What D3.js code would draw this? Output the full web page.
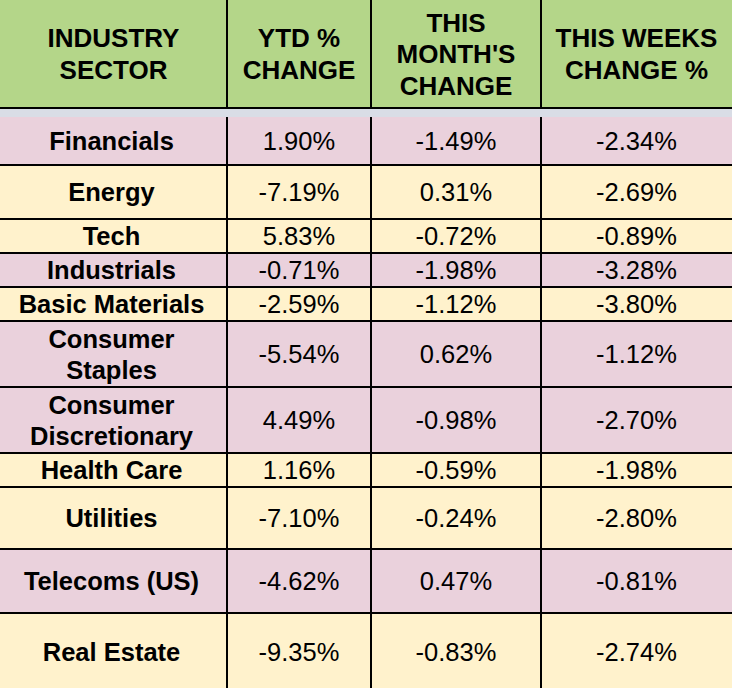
<!DOCTYPE html>
<html>
<head>
<meta charset="utf-8">
<script src="https://cdn.jsdelivr.net/npm/d3@7"></script>
<style>
  body { margin: 0; background: #fff; }
  svg { display: block; font-family: "Liberation Sans", Arial, sans-serif; }
</style>
</head>
<body>
<div id="table"></div>
<script>
// header labels, one array of lines per column
var headers = [
  ['INDUSTRY', 'SECTOR'],
  ['YTD %', 'CHANGE'],
  ['THIS', "MONTH'S", 'CHANGE'],
  ['THIS WEEKS', 'CHANGE %']
];

var sectors = [
  'Financials', 'Energy', 'Tech', 'Industrials', 'Basic Materials',
  'Consumer\nStaples', 'Consumer\nDiscretionary', 'Health Care',
  'Utilities', 'Telecoms (US)', 'Real Estate'
];
var ytdChange   = [1.90, -7.19, 5.83, -0.71, -2.59, -5.54, 4.49, 1.16, -7.10, -4.62, -9.35];
var monthChange = [-1.49, 0.31, -0.72, -1.98, -1.12, 0.62, -0.98, -0.59, -0.24, 0.47, -0.83];
var weekChange  = [-2.34, -2.69, -0.89, -3.28, -3.80, -1.12, -2.70, -1.98, -2.80, -0.81, -2.74];

// layout (not data): column edges, row heights, row colours
var colEdges = [0, 227, 371, 541, 732];
var headerH = 108, gapH = 9;
var rowHeights = [48, 54, 34, 34, 34, 66, 66, 34, 62, 64, 77];
var rowFill = ['pink', 'yellow', 'yellow', 'pink', 'yellow', 'pink', 'pink', 'yellow', 'yellow', 'pink', 'yellow'];
var fills = { pink: '#ead1dc', yellow: '#fff2cc', header: '#b4d689', gap: '#d9dde6' };

var W = 732, H = 688;
var fmt = function (v) { return v.toFixed(2) + '%'; };

var rows = sectors.map(function (s, i) {
  return { cells: [s, fmt(ytdChange[i]), fmt(monthChange[i]), fmt(weekChange[i])], h: rowHeights[i], fill: fills[rowFill[i]] };
});
var y0 = headerH + gapH;
rows.forEach(function (r) { r.y = y0; y0 += r.h; });

var svg = d3.select('#table').append('svg')
  .attr('width', W)
  .attr('height', H);

// header
svg.append('rect').attr('x', 0).attr('y', 0).attr('width', W).attr('height', headerH).attr('fill', fills.header);
svg.append('rect').attr('x', 0).attr('y', headerH).attr('width', W).attr('height', gapH).attr('fill', fills.gap);

var lineH = 31.5;
headers.forEach(function (lines, c) {
  var cx = (colEdges[c] + colEdges[c + 1]) / 2;
  var startY = headerH / 2 - (lines.length - 1) * lineH / 2 + 9;
  svg.append('text')
    .attr('text-anchor', 'middle')
    .attr('font-weight', 'bold')
    .attr('font-size', 26)
    .attr('fill', '#000')
    .selectAll('tspan').data(lines).enter().append('tspan')
    .attr('x', cx)
    .attr('y', function (d, i) { return startY + i * lineH; })
    .text(function (d) { return d; });
});

// body rows
var g = svg.selectAll('g.row').data(rows).enter().append('g').attr('class', 'row');
g.append('rect')
  .attr('x', 0).attr('y', function (d) { return d.y; })
  .attr('width', W).attr('height', function (d) { return d.h; })
  .attr('fill', function (d) { return d.fill; });

g.each(function (r) {
  var row = d3.select(this);
  r.cells.forEach(function (txt, c) {
    var lines = txt.split('\n');
    var cx = (colEdges[c] + colEdges[c + 1]) / 2;
    var startY = r.y + r.h / 2 - (lines.length - 1) * 31 / 2 + 9;
    row.append('text')
      .attr('text-anchor', 'middle')
      .attr('font-weight', c === 0 ? 'bold' : 'normal')
      .attr('font-size', 25.5)
      .attr('fill', '#000')
      .selectAll('tspan').data(lines).enter().append('tspan')
      .attr('x', cx - (c === 0 ? 2 : 0))
      .attr('y', function (d, i) { return startY + i * 31; })
      .text(function (d) { return d; });
  });
});

// grid lines
svg.append('line').attr('x1', 0).attr('x2', W).attr('y1', headerH).attr('y2', headerH)
  .attr('stroke', '#000').attr('stroke-width', 2);
rows.slice(1).forEach(function (r) {
  svg.append('line').attr('x1', 0).attr('x2', W).attr('y1', r.y).attr('y2', r.y)
    .attr('stroke', '#000').attr('stroke-width', 2);
});
colEdges.slice(1, 4).forEach(function (x) {
  svg.append('line').attr('x1', x).attr('x2', x).attr('y1', 0).attr('y2', headerH)
    .attr('stroke', '#000').attr('stroke-width', 2);
  svg.append('line').attr('x1', x).attr('x2', x).attr('y1', headerH + gapH).attr('y2', H)
    .attr('stroke', '#000').attr('stroke-width', 2);
});
</script>
</body>
</html>
